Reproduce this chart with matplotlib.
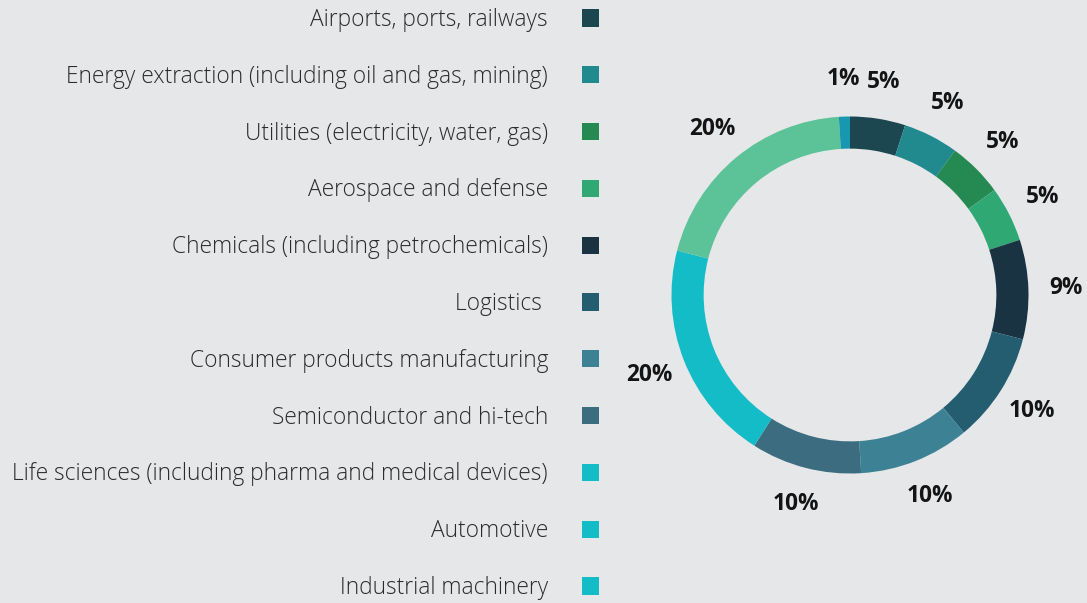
import matplotlib
matplotlib.use("Agg")
import matplotlib.pyplot as plt
import numpy as np

categories = [
    "Airports, ports, railways",
    "Energy extraction (including oil and gas, mining)",
    "Utilities (electricity, water, gas)",
    "Aerospace and defense",
    "Chemicals (including petrochemicals)",
    "Logistics ",
    "Consumer products manufacturing",
    "Semiconductor and hi-tech",
    "Life sciences (including pharma and medical devices)",
    "Automotive",
    "Industrial machinery",
]
values = [5, 5, 5, 5, 9, 10, 10, 10, 20, 20, 1]
legend_colors = ["#1c4650", "#218a8f", "#248a52", "#2fa874", "#193343", "#245d70",
                 "#3d8194", "#3b6c80", "#13bcc6", "#13bcc6", "#13bcc6"]
slice_colors = ["#1c4650", "#218a8f", "#248a52", "#2fa874", "#193343", "#245d70",
                "#3d8194", "#3b6c80", "#13bcc6", "#5cc297", "#1898b0"]
pct_labels = [f"{v}%" for v in values]

BG = "#e6e7e9"
W, H = 1087, 603
fig = plt.figure(figsize=(W / 100, H / 100), dpi=100, facecolor=BG)

# Legend-like list on the left
axl = fig.add_axes([0, 0, 1, 1])
axl.set_xlim(0, W)
axl.set_ylim(H, 0)
axl.axis("off")
row_y = 18 + 56.8 * np.arange(len(categories))
axl.scatter([590.5] * len(categories), row_y, marker="s", s=150,
            c=legend_colors, linewidths=0)
for y, lab in zip(row_y, categories):
    axl.text(548, y + 2, lab, ha="right", va="center", fontsize=16.4,
             family="Open Sans", fontweight="light", color="#2b2b2b")

# Donut
cx, cy, R = 850, 295, 178.5
ax = fig.add_axes([(cx - R) / W, (H - cy - R) / H, 2 * R / W, 2 * R / H])
ax.set_facecolor(BG)
wedges, texts = ax.pie(values, colors=slice_colors, startangle=90, counterclock=False,
                       labels=pct_labels, labeldistance=1.21,
                       wedgeprops=dict(width=0.18, edgecolor="none"),
                       textprops=dict(fontsize=16.3, fontweight="bold", family="Open Sans",
                                      color="#141414"))
for t in texts:
    t.set_ha("center")
    t.set_va("center")
ax.set_xlim(-1, 1)
ax.set_ylim(-1, 1)
ax.set_aspect("equal")
ax.axis("off")

fig.savefig("out.png", dpi=100, facecolor=BG)
